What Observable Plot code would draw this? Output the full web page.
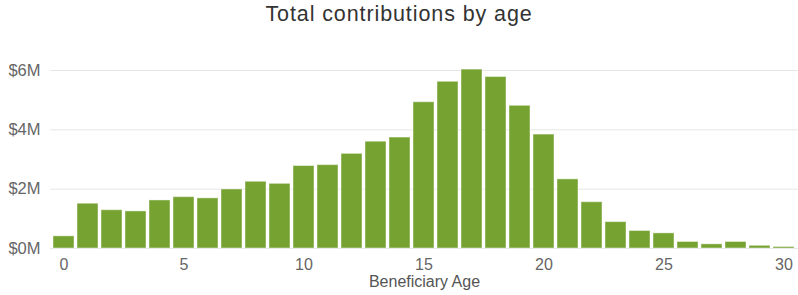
<!DOCTYPE html>
<html>
<head>
<meta charset="utf-8">
<script src="https://cdn.jsdelivr.net/npm/d3@7"></script>
<script src="https://cdn.jsdelivr.net/npm/@observablehq/plot@0.6"></script>
<style>
  html, body { margin: 0; padding: 0; background: #fff; }
  #title { height: 28px; line-height: 28px; text-align: center; font-family: "Liberation Sans", Arial, sans-serif; font-size: 21.5px; letter-spacing: 0.9px; color: #333; width: 798px; }
  #chart svg { display: block; }
</style>
</head>
<body>
<div id="title">Total contributions by age</div>
<div id="chart"></div>
<script>
const ages = [0,1,2,3,4,5,6,7,8,9,10,11,12,13,14,15,16,17,18,19,20,21,22,23,24,25,26,27,28,29,30];
const contributionsM = [0.41,1.51,1.29,1.25,1.62,1.73,1.69,1.99,2.25,2.18,2.78,2.81,3.19,3.60,3.74,4.93,5.62,6.03,5.78,4.81,3.84,2.33,1.56,0.89,0.59,0.51,0.22,0.14,0.22,0.09,0.05];
const xTicks = [0,5,10,15,20,25,30];
const yTicks = [0,2,4,6];
const xLabel = "Beneficiary Age";

const data = ages.map((a, i) => ({age: a, value: contributionsM[i]}));

const plot = Plot.plot({
  width: 798,
  height: 267,
  marginLeft: 50,
  marginRight: 0,
  marginTop: 42,
  marginBottom: 47,
  style: {fontFamily: "'Liberation Sans', Arial, sans-serif", background: "#fff"},
  x: {type: "band", domain: ages, padding: 0.12, label: null},
  y: {domain: [0, 6], label: null},
  marks: [
    Plot.gridY(yTicks, {stroke: "#e6e6e6", strokeOpacity: 1}),
    Plot.barY(data, {x: "age", y: "value", fill: "#76a232", stroke: "#ffffff", strokeOpacity: 0.45, strokeWidth: 1}),
    Plot.axisY(yTicks, {tickSize: 0, tickPadding: 10, tickFormat: d => "$" + d + "M", fontSize: 16.5, fill: "#666", label: null, style: "letter-spacing:2px"}),
    Plot.axisX(xTicks, {tickSize: 0, tickPadding: 10, fontSize: 16, fill: "#666", label: null, style: "letter-spacing:1.2px"}),
    Plot.text([xLabel], {frameAnchor: "bottom", dy: 38, text: d => d, fontSize: 16, fill: "#555", style: "letter-spacing:0.8px"})
  ]
});
document.getElementById("chart").appendChild(plot);
</script>
</body>
</html>
